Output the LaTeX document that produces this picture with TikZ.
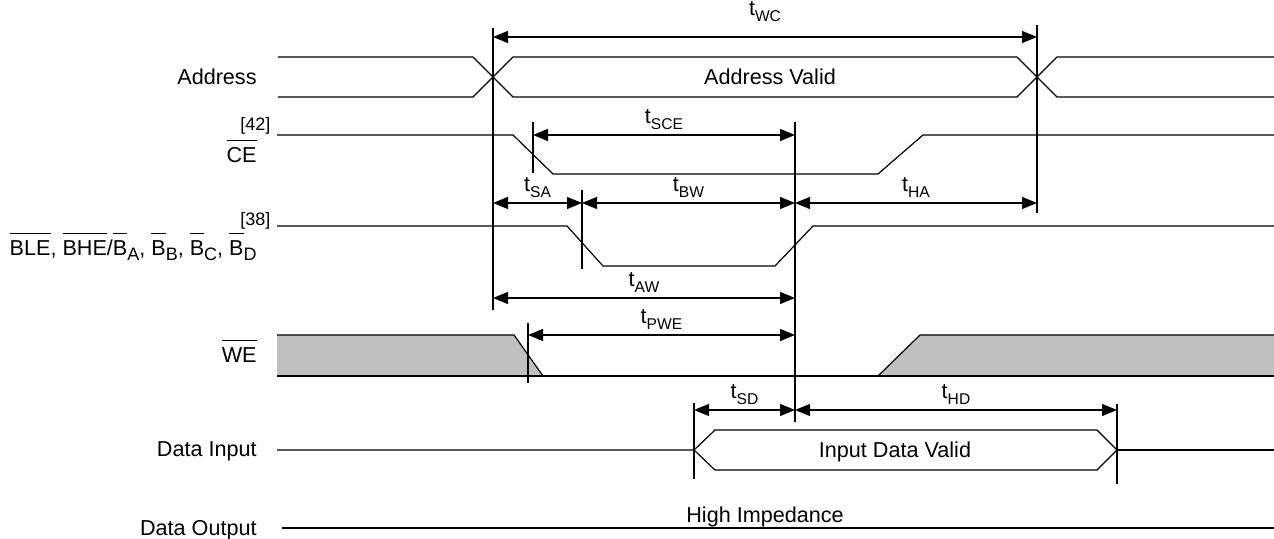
\documentclass[tikz,border=0pt]{standalone}
\usepackage{fontspec}
\setmainfont{Liberation Sans}
\usetikzlibrary{arrows.meta}
\definecolor{wegray}{RGB}{192,192,192}
\tikzset{
  wave/.style={line width=0.6pt},
  tick/.style={line width=0.6pt},
  dim/.style={line width=0.6pt, {Triangle[length=7.5pt,width=6pt]}-{Triangle[length=7.5pt,width=6pt]}},
  siglabel/.style={anchor=base east, inner sep=0pt},
  reflabel/.style={anchor=base west, inner sep=0pt, font=\fontsize{9}{10}\selectfont},
  tlabel/.style={above=2.5pt, inner sep=0pt}
}
\newcommand{\tm}[1]{t\raisebox{-3pt}{\fontsize{7.8}{8}\selectfont #1}}
\newcommand{\bsub}[1]{\raisebox{-2.5pt}{\fontsize{9}{10}\selectfont #1}}
\newcommand{\ovl}[1]{\setbox0=\hbox{#1}\rlap{\raisebox{\dimexpr\ht0+3.5pt\relax}{\rule{\wd0}{0.5pt}}}\box0}

\begin{document}
\begin{tikzpicture}[x=0.5pt, y=-0.5pt, font=\fontsize{10.8}{13}\selectfont]
\useasboundingbox (0,0) rectangle (1274,539);

% signal names
\node[siglabel] (addr) at (257,85) {Address};
\node[siglabel] (ce) at (257,163) {\ovl{CE}};
\node[reflabel] (ce-ref) at (240,131) {[42]};
\node[siglabel] (ble) at (257,256) {\ovl{BLE}, \ovl{BHE}/\ovl{B}\bsub{A}, \ovl{B}\bsub{B}, \ovl{B}\bsub{C}, \ovl{B}\bsub{D}};
\node[reflabel] (ble-ref) at (240,226) {[38]};
\node[siglabel] (we) at (257,363) {\ovl{WE}};
\node[siglabel] (din) at (257,457) {Data Input};
\node[siglabel] (dout) at (257,535) {Data Output};

% waveforms
\draw[wave] (278,57) -- (473,57) -- (513,97) -- (1017,97) -- (1057,57) -- (1274,57);
\draw[wave] (278,97) -- (473,97) -- (513,57) -- (1017,57) -- (1057,97) -- (1274,97);
\node[anchor=base] (addr-valid) at (770,85) {Address Valid};
\draw[wave] (277,135) -- (513,135) -- (553,174) -- (878,174) -- (923,135) -- (1274,135);
\draw[wave] (277,226) -- (567,226) -- (603,266) -- (775,266) -- (813,226) -- (1274,226);
\fill[wegray] (277,335) -- (514,335) -- (543,376) -- (277,376) -- cycle;
\fill[wegray] (878,376) -- (920,335) -- (1274,335) -- (1274,376) -- cycle;
\draw[wave] (277,335) -- (514,335) -- (543,376);
\draw[wave] (878,376) -- (920,335) -- (1274,335);
\draw[wave] (277,376) -- (1274,376);
\draw[wave] (277,450) -- (694,450) -- (715,430) -- (1097,430) -- (1117,450) -- (1097,470) -- (715,470) -- (694,450);
\draw[wave] (1117,450) -- (1274,450);
\node[anchor=base] (din-valid) at (895,458) {Input Data Valid};
\draw[wave] (282,528) -- (1274,528);
\node[anchor=base] (hiz) at (765,522) {High Impedance};

% timing marks
\draw[tick] (493,28) -- (493,310);
\draw[tick] (1037,25) -- (1037,213);
\draw[tick] (533,122) -- (533,173);
\draw[tick] (795,122) -- (795,422);
\draw[tick] (582,190) -- (582,269);
\draw[tick] (528,323) -- (528,383);
\draw[tick] (694,403) -- (694,479);
\draw[tick] (1117,404) -- (1117,484);

\coordinate (wc-s) at (493,37);   \coordinate (wc-e) at (1037,37);
\coordinate (sce-s) at (533,135); \coordinate (sce-e) at (795,135);
\coordinate (sa-s) at (493,203);  \coordinate (sa-e) at (582,203);
\coordinate (bw-e) at (795,203);  \coordinate (ha-e) at (1037,203);
\coordinate (aw-s) at (493,298);  \coordinate (aw-e) at (795,298);
\coordinate (pwe-s) at (528,335); \coordinate (pwe-e) at (795,335);
\coordinate (sd-s) at (694,410);  \coordinate (sd-e) at (795,410);
\coordinate (hd-e) at (1117,410);

\draw[dim] (wc-s) -- node[tlabel, above=5pt] {\tm{WC}} (wc-e);
\draw[dim] (sce-s) -- node[tlabel] {\tm{SCE}} (sce-e);
\draw[dim] (sa-s) -- node[tlabel] {\tm{SA}} (sa-e);
\draw[dim] (sa-e) -- node[tlabel] {\tm{BW}} (bw-e);
\draw[dim] (bw-e) -- node[tlabel] {\tm{HA}} (ha-e);
\draw[dim] (aw-s) -- node[tlabel] {\tm{AW}} (aw-e);
\draw[dim] (pwe-s) -- node[tlabel] {\tm{PWE}} (pwe-e);
\draw[dim] (sd-s) -- node[tlabel] {\tm{SD}} (sd-e);
\draw[dim] (sd-e) -- node[tlabel] {\tm{HD}} (hd-e);
\end{tikzpicture}
\end{document}
